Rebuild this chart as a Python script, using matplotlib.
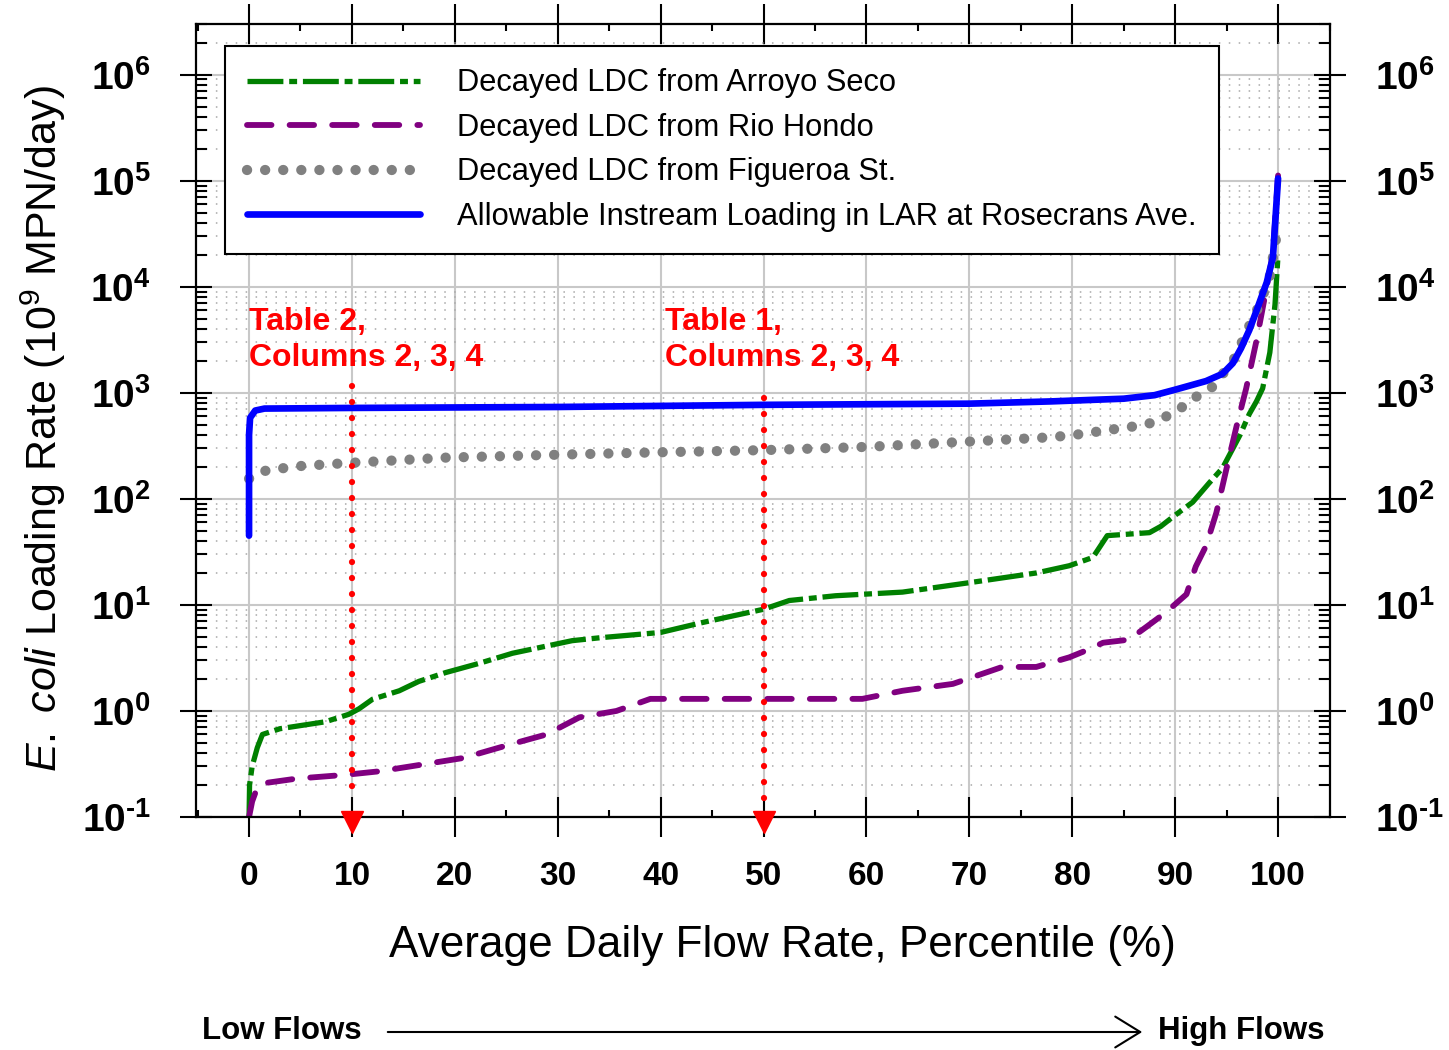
import numpy as np
import matplotlib
matplotlib.use("Agg")
import matplotlib.pyplot as plt
from matplotlib.ticker import MultipleLocator, LogLocator, FuncFormatter, NullFormatter

plt.rcParams['font.family'] = ['Liberation Sans', 'DejaVu Sans']
plt.rcParams['mathtext.fontset'] = 'custom'
plt.rcParams['mathtext.rm'] = 'Liberation Sans'
plt.rcParams['mathtext.it'] = 'Liberation Sans:italic'
plt.rcParams['mathtext.bf'] = 'Liberation Sans:bold'

# decayed load duration curves (percentile, 10^9 MPN/day)
arroyo_pct = [0, 0.05, 0.3, 0.8, 1.3, 3, 7.4, 9.7, 10.7, 12, 14.6, 16.5, 19.1, 22.3, 25.6,
              31.4, 34.1, 40, 44, 50, 52.5, 57, 63.5, 70, 76.5, 79.7, 82, 83.4, 87.5, 88.6,
              89.9, 91.7, 93.3, 94.6, 96.3, 97.2, 97.9, 98.5, 99.2, 99.7, 100]
arroyo_load = [0.1, 0.2, 0.3, 0.45, 0.6, 0.68, 0.79, 0.93, 1.05, 1.29, 1.55, 1.9, 2.3, 2.8, 3.5,
               4.6, 4.9, 5.5, 6.8, 9.1, 11, 12.2, 13.2, 16.2, 20, 23.4, 28, 45, 48, 55,
               69, 93, 141, 195, 400, 630, 830, 1100, 2400, 6800, 20000]

hondo_pct = [0, 0.3, 0.8, 1.7, 4.6, 9.4, 12.7, 17.5, 20.8, 25.6, 28.9, 32.1, 35.7, 39, 45, 50,
             57, 59.6, 63.5, 68.4, 73.2, 76.5, 79.7, 81, 83, 85.5, 87.2, 89.1, 91.1, 92, 93,
             94, 95, 96, 96.9, 97.9, 98.7, 99.5, 100]
hondo_load = [0.1, 0.14, 0.19, 0.21, 0.23, 0.25, 0.27, 0.32, 0.36, 0.49, 0.6, 0.87, 1.0, 1.3, 1.3, 1.3,
              1.3, 1.3, 1.55, 1.8, 2.6, 2.6, 3.2, 3.6, 4.4, 4.7, 6.2, 8.5, 12.6, 23, 36,
              74, 195, 500, 1100, 3100, 7900, 20400, 112000]

figueroa_pct = [0, 1.7, 5, 10, 19.2, 31.5, 40, 50, 60, 70, 77.7, 80, 83.6, 87.2, 89, 90.6,
                92, 93.7, 94.8, 95.8, 97.2, 98.2, 99.2, 100]
figueroa_load = [155, 186, 204, 219, 245, 263, 275, 288, 309, 347, 380, 398, 447, 501, 589, 724,
                 912, 1150, 1585, 2140, 4270, 6760, 12600, 37000]

allow_pct = [0, 0, 0.1, 0.6, 1.5, 10, 30, 50, 70, 78, 85, 88, 90, 93, 94.6, 95.6, 96.4,
             97.2, 98, 98.9, 99.5, 100]
allow_load = [45, 400, 580, 680, 710, 720, 735, 770, 790, 830, 880, 950, 1070, 1290, 1510, 1900, 2630,
              3890, 6300, 11000, 19000, 105000]

labels = ['Decayed LDC from Arroyo Seco', 'Decayed LDC from Rio Hondo',
          'Decayed LDC from Figueroa St.', 'Allowable Instream Loading in LAR at Rosecrans Ave.']

# red call-outs
table_pct = [10, 50]
table_top = [1170, 900]
table_text = ['Table 2,\nColumns 2, 3, 4', 'Table 1,\nColumns 2, 3, 4']
table_text_x = [0, 40.4]

fig = plt.figure(figsize=(14.49, 10.5), dpi=100)
ax = fig.add_axes([0.1353, 0.2219, 0.7826, 0.7552])

ax.plot(arroyo_pct, arroyo_load, color='#008000', lw=3.8, ls=(0, (6.8, 1.1, 1.5, 1.1)), label=labels[0])
ax.plot(hondo_pct, hondo_load, color='#800080', lw=4.2, ls=(0, (4.2, 3.1)), dash_capstyle='round', label=labels[1])
ax.plot(figueroa_pct, figueroa_load, color='#808080', lw=7.4, ls=(0, (0.01, 1.75)), dash_capstyle='round', label=labels[2])
ax.plot(allow_pct, allow_load, color='#0000ff', lw=4.8, solid_capstyle='round', label=labels[3])

for xv, top in zip(table_pct, table_top):
    ax.plot([xv, xv], [top, 0.14], color='red', lw=4.5, ls=(0, (0.01, 2.55)), dash_capstyle='round', zorder=5)
    ax.plot([xv], [10 ** -1.05], marker='v', ms=16.5, color='red', clip_on=False, zorder=6)
for xv, txt in zip(table_text_x, table_text):
    ax.text(xv, 10 ** 3.81, txt, color='red', fontsize=23, fontweight='bold', va='top', ha='left',
            linespacing=1.25, zorder=6)

ax.set_yscale('log')
ax.set_xlim(-5.15, 105.05)
ax.set_ylim(0.1, 3e6)

ax.xaxis.set_major_locator(MultipleLocator(10))
ax.xaxis.set_minor_locator(MultipleLocator(5))
ax.yaxis.set_major_locator(LogLocator(base=10, numticks=20))
ax.yaxis.set_minor_locator(LogLocator(base=10, subs=np.arange(2, 10), numticks=20))
ax.yaxis.set_major_formatter(FuncFormatter(
    lambda v, p: r'$\mathbf{10^{%s}}$' % str(round(np.log10(v))).replace('-', '\u2010')))
ax.yaxis.set_minor_formatter(NullFormatter())

ax.tick_params(which='both', top=True, right=True, labelright=True, width=1.5, color='black')
ax.tick_params(axis='x', which='major', direction='inout', length=29, pad=17, labelsize=24)
ax.tick_params(axis='x', which='minor', direction='in', length=5)
ax.tick_params(axis='y', which='major', direction='inout', length=23, pad=21, labelsize=28)
ax.tick_params(axis='y', which='minor', direction='in', length=8)
plt.setp(ax.get_xticklabels(), fontweight='bold')
for s in ax.spines.values():
    s.set_linewidth(1.6)

ax.grid(which='major', color='#c8c8c8', lw=1.5, ls='-')
ax.grid(which='minor', axis='y', color='#a8a8a8', lw=1.1, ls=(0, (1, 5.5)))
ax.set_axisbelow(True)

leg = ax.legend(loc='upper left', bbox_to_anchor=(0.0256, 0.972), fontsize=22.2, handlelength=5.6,
                handletextpad=1.2, labelspacing=0.47, borderpad=0.72, borderaxespad=0,
                fancybox=False, edgecolor='black', framealpha=1)
leg.get_frame().set_linewidth(1.5)

fig.text(0.03, 0.592, r'$\mathit{E.\ coli}$ Loading Rate (10$^{9}$ MPN/day)', rotation=90,
         fontsize=31, ha='center', va='center')
fig.text(0.5397, 0.1, 'Average Daily Flow Rate, Percentile (%)', fontsize=31.8, ha='center', va='center')

fig.text(0.1394, 0.0181, 'Low Flows', fontsize=22.5, fontweight='bold', ha='left', va='center')
fig.text(0.799, 0.0181, 'High Flows', fontsize=22.5, fontweight='bold', ha='left', va='center')
fig.patches.append(matplotlib.patches.FancyArrowPatch(
    (385 / 1449, 0.01714), (1145 / 1449, 0.01714), transform=fig.transFigure,
    arrowstyle='->,head_length=0.6,head_width=0.37', mutation_scale=30, lw=1.5, color='black'))

fig.savefig('out.png', dpi=100)
